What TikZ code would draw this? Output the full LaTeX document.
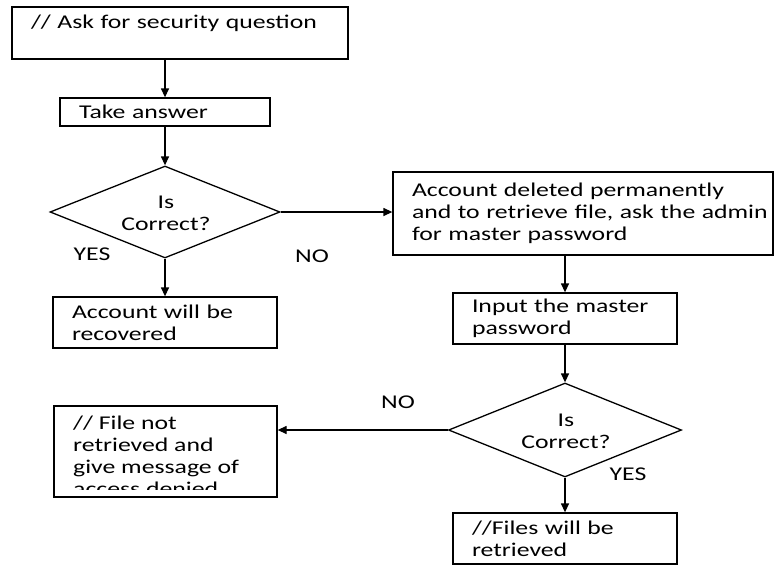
\documentclass[tikz,border=0pt]{standalone}
\usepackage{fontspec}
\setmainfont{Carlito}[FakeStretch=1.32]
\usetikzlibrary{arrows.meta,shapes.geometric}
\begin{document}
\begin{tikzpicture}[x=1pt,y=-1pt,
  every node/.style={font=\fontsize{19.5}{22}\selectfont},
  box/.style={draw,line width=1.3pt,rectangle,inner xsep=19pt,inner ysep=0pt,align=left},
  dia/.style={draw,line width=1.3pt,diamond,inner sep=0pt},
  lbl/.style={inner sep=0pt},
  arr/.style={line width=1.3pt,-{Triangle[length=9pt,width=8pt]}}
]
\useasboundingbox[fill=white] (0,0) rectangle (775,565);

\node[box,text width=298pt,minimum height=52pt] (b1) at (180,33) {// Ask for security question\\ \mbox{}};
\node[box,text width=172pt,minimum height=28pt] (b2) at (165,112) {Take answer};
\node[dia,minimum width=230pt,minimum height=92pt] (d1) at (165,212) {};
\node[lbl,align=center] (q1) at (166,213) {Is\\Correct?};
\node[box,text width=186pt,minimum height=51pt] (brec) at (165,322.5) {Account will be\\recovered};
\node[box,text width=342pt,minimum height=83pt] (b3) at (583,213.5) {\mbox{Account deleted permanently}\\\mbox{and to retrieve file, ask the admin}\\\mbox{for master password}};
\node[box,text width=186pt,minimum height=51pt] (b4) at (565,318.5) {Input the master\\password};
\node[dia,minimum width=233pt,minimum height=94pt] (d2) at (565,430) {};
\node[lbl,align=center] (q2) at (566,431) {Is\\Correct?};
\begin{scope}
  \clip (54,406) rectangle (277,489);
  \node[lbl,align=left,anchor=north west] (t5) at (73,416) {// File not\\retrieved and\\give message of\\access denied};
\end{scope}
\node[draw,line width=1.3pt,rectangle,inner sep=0pt,minimum width=223pt,minimum height=91pt] (b5) at (165.5,451.5) {};
\node[box,text width=186pt,minimum height=51pt] (b6) at (565,538.5) {//Files will be\\retrieved};

\node[lbl] (yes1) at (92,254) {YES};
\node[lbl] (no1) at (312,256) {NO};
\node[lbl] (no2) at (398,402) {NO};
\node[lbl] (yes2) at (628,474) {YES};

\draw[arr] (b1.south -| b2.north) -- (b2.north);
\draw[arr] (b2.south) -- (d1.north);
\draw[arr] (d1.south) -- (brec.north);
\draw[arr] (d1.east) -- (d1.east -| b3.west);
\draw[arr] (b3.south -| b4.north) -- (b4.north);
\draw[arr] (b4.south) -- (d2.north);
\draw[arr] (d2.west) -- (d2.west -| b5.east);
\draw[arr] (d2.south) -- (b6.north);
\end{tikzpicture}
\end{document}
